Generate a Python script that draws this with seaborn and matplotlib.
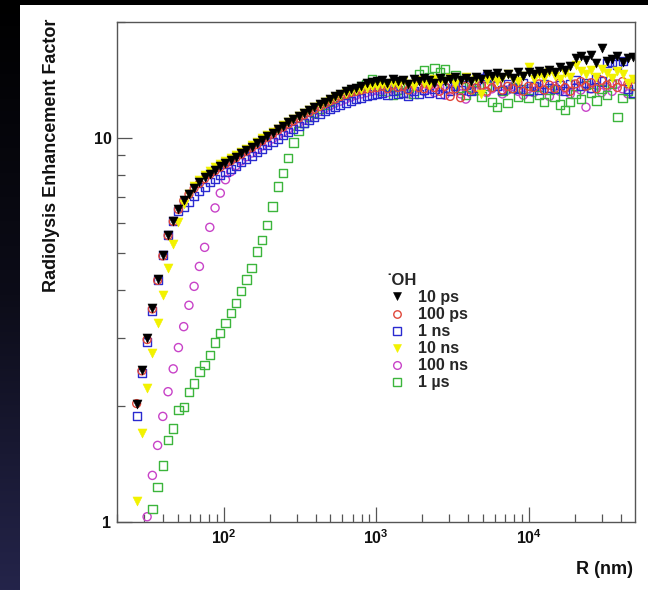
import numpy as np
import pandas as pd
import matplotlib
matplotlib.use("Agg")
import matplotlib.pyplot as plt
import seaborn as sns
from matplotlib.lines import Line2D
from matplotlib.patches import Rectangle
from matplotlib.colors import LinearSegmentedColormap
from matplotlib.ticker import FixedLocator, FixedFormatter, LogLocator, NullFormatter

# ---------------- data ----------------
R_nm = [26.9, 29.1, 31.5, 34.1, 36.9, 39.9, 43.2, 46.7, 50.5, 54.7,
        59.2, 64.0, 69.3, 75.0, 81.1, 87.8, 95.0, 102.7, 111.1, 120.3,
        130.1, 140.8, 152.4, 164.9, 178.4, 193.0, 208.9, 226.0, 244.5, 264.6,
        286.2, 309.7, 335.1, 362.6, 392.3, 424.5, 459.3, 496.9, 537.7, 581.8,
        629.5, 681.1, 737.0, 797.4, 862.8, 933.5, 1010, 1093, 1183, 1280,
        1385, 1498, 1621, 1754, 1898, 2053, 2222, 2404, 2601, 2814,
        3045, 3295, 3565, 3857, 4174, 4516, 4886, 5287, 5720, 6189,
        6697, 7246, 7840, 8483, 9179, 9932, 10746, 11627, 12580, 13612,
        14728, 15936, 17243, 18656, 20187, 21842, 23633, 25571, 27667, 29936,
        32391, 35047, 37921, 41030, 44395, 48035]

ref_10ps = [2.03, 2.49, 3.00, 3.60, 4.28, 4.95, 5.59, 6.08, 6.52, 6.90,
            7.15, 7.40, 7.65, 7.88, 8.06, 8.25, 8.43, 8.60, 8.75, 8.92,
            9.10, 9.28, 9.48, 9.66, 9.88, 10.08, 10.30, 10.50, 10.75, 10.95,
            11.15, 11.35, 11.60, 11.80, 12.00, 12.25, 12.40, 12.60, 12.80, 13.00,
            13.20, 13.35, 13.50, 13.65, 13.85, 13.95, 14.00, 14.10, 13.90, 14.20,
            14.00, 14.10, 13.80, 14.20, 14.00, 14.30, 14.10, 13.90, 14.30, 14.00,
            14.20, 14.40, 14.10, 14.30, 14.00, 14.40, 14.20, 14.60, 14.50, 14.70,
            14.40, 14.60, 14.30, 14.80, 14.50, 14.80, 14.60, 14.90, 14.70, 15.00,
            14.80, 15.30, 15.00, 15.40, 16.10, 16.30, 15.90, 16.40, 15.60, 17.10,
            15.80, 16.00, 16.30, 15.70, 16.10, 16.20]

ref_100ps = [2.03, 2.47, 2.98, 3.58, 4.25, 4.92, 5.56, 6.05, 6.50, 6.85,
             7.12, 7.38, 7.60, 7.82, 8.02, 8.20, 8.38, 8.55, 8.70, 8.87,
             9.05, 9.22, 9.42, 9.60, 9.82, 10.02, 10.22, 10.45, 10.65, 10.85,
             11.05, 11.25, 11.45, 11.65, 11.85, 12.05, 12.25, 12.45, 12.60, 12.80,
             12.95, 13.10, 13.20, 13.30, 13.40, 13.45, 13.50, 13.60, 13.40, 13.70,
             13.50, 13.60, 13.30, 13.80, 13.50, 13.40, 13.70, 13.50, 13.20, 13.60,
             12.80, 13.40, 12.70, 13.60, 13.30, 13.50, 13.70, 13.20, 13.50, 13.80,
             13.30, 13.60, 13.40, 13.90, 13.20, 13.60, 13.50, 13.80, 13.30, 13.70,
             13.40, 13.90, 13.50, 13.20, 13.80, 14.00, 13.60, 13.90, 13.40, 14.10,
             13.70, 13.90, 13.50, 14.00, 13.80, 13.60]

ref_1ns = [1.88, 2.44, 2.94, 3.53, 4.26, 4.95, 5.59, 6.05, 6.45, 6.60,
           6.82, 7.04, 7.25, 7.45, 7.65, 7.82, 7.98, 8.15, 8.30, 8.45,
           8.62, 8.78, 8.96, 9.15, 9.35, 9.55, 9.75, 9.95, 10.15, 10.35,
           10.52, 10.72, 10.92, 11.10, 11.30, 11.50, 11.70, 11.85, 12.00, 12.15,
           12.30, 12.45, 12.60, 12.70, 12.85, 12.95, 13.00, 13.10, 12.90, 13.20,
           13.00, 13.10, 12.80, 13.20, 13.00, 13.30, 13.10, 13.40, 13.00, 13.50,
           13.20, 13.60, 13.30, 13.70, 13.20, 13.50, 14.30, 14.50, 14.40, 13.60,
           13.30, 13.80, 13.50, 13.40, 13.90, 13.20, 13.60, 13.30, 13.80, 13.50,
           13.40, 13.70, 13.20, 13.80, 14.10, 13.60, 13.90, 13.50, 14.20, 14.00,
           15.60, 15.70, 15.50, 15.80, 13.40, 13.10]

ref_10ns = [1.13, 1.70, 2.23, 2.75, 3.29, 3.90, 4.57, 5.28, 6.02, 6.70,
            7.15, 7.50, 7.75, 7.98, 8.18, 8.36, 8.52, 8.68, 8.84, 9.00,
            9.18, 9.36, 9.55, 9.74, 9.95, 10.15, 10.36, 10.56, 10.78, 10.98,
            11.18, 11.38, 11.58, 11.78, 11.98, 12.18, 12.38, 12.56, 12.74, 12.90,
            13.05, 13.20, 13.30, 13.40, 13.50, 13.60, 13.65, 13.80, 13.60, 13.90,
            13.70, 14.00, 13.80, 13.60, 14.10, 13.90, 13.70, 14.20, 13.90, 14.00,
            14.30, 13.80, 14.10, 14.40, 14.00, 14.20, 13.00, 14.10, 14.40, 14.00,
            14.30, 14.60, 14.20, 14.00, 14.50, 15.30, 14.20, 14.60, 14.30, 14.80,
            14.50, 14.20, 14.70, 14.40, 15.50, 14.90, 14.60, 15.00, 14.40, 15.10,
            14.70, 14.30, 14.90, 14.60, 13.90, 14.20]

# starts at R_nm[2]
ref_100ns = [1.03, 1.32, 1.58, 1.88, 2.18, 2.50, 2.84, 3.22,
             3.66, 4.10, 4.62, 5.18, 5.84, 6.56, 7.17, 7.77, 8.15, 8.45,
             8.70, 8.92, 9.12, 9.32, 9.52, 9.72, 9.93, 10.12, 10.32, 10.52,
             10.72, 10.92, 11.10, 11.30, 11.50, 11.70, 11.90, 12.10, 12.30, 12.45,
             12.60, 12.75, 12.90, 13.00, 13.10, 13.20, 13.25, 13.30, 13.10, 13.40,
             13.20, 13.50, 13.00, 13.30, 13.60, 13.20, 13.40, 13.10, 13.50, 12.90,
             13.30, 13.60, 13.00, 12.60, 13.40, 13.20, 13.50, 13.10, 13.40, 13.70,
             13.00, 13.30, 13.60, 13.20, 12.90, 13.40, 13.10, 13.50, 13.30, 12.80,
             13.60, 13.20, 13.40, 13.00, 13.50, 13.30, 12.00, 13.40, 13.70, 13.10,
             13.50, 13.20, 13.80, 13.40, 13.00, 13.60]

# starts at R_nm[3]
ref_1us = [1.08, 1.23, 1.40, 1.63, 1.75, 1.95, 1.99,
           2.18, 2.29, 2.46, 2.56, 2.72, 2.93, 3.10, 3.29, 3.49, 3.71,
           3.98, 4.27, 4.58, 5.05, 5.42, 5.93, 6.62, 7.46, 8.09, 8.85,
           9.72, 10.40, 10.90, 11.30, 11.60, 11.90, 12.20, 12.40, 12.60, 12.90,
           13.00, 13.30, 13.40, 13.60, 13.80, 14.20, 13.90, 13.20, 13.60, 12.90,
           13.30, 13.10, 13.50, 13.00, 14.60, 15.00, 14.40, 15.20, 14.80, 15.10,
           13.90, 14.50, 13.50, 12.90, 13.80, 13.30, 12.80, 13.60, 12.40, 12.00,
           13.20, 12.30, 13.50, 12.80, 13.40, 12.70, 13.60, 12.90, 12.40, 13.30,
           12.80, 12.20, 11.80, 12.40, 13.00, 12.60, 13.70, 13.10, 12.50, 13.40,
           12.90, 13.80, 11.30, 12.70, 13.20, 13.00]

labels = ["10 ps", "100 ps", "1 ns", "10 ns", "100 ns", "1 \u00b5s"]
x_ticks = [100, 1000, 10000]
x_ticklabels = [r"$10^{2}$", r"$10^{3}$", r"$10^{4}$"]
y_ticks = [1, 10]
y_ticklabels = ["1", "10"]

# ---------------- style ----------------
sns.set_style("ticks")
plt.rcParams["font.family"] = ["Liberation Sans", "DejaVu Sans"]
plt.rcParams["font.weight"] = "bold"
plt.rcParams["mathtext.fontset"] = "custom"
plt.rcParams["mathtext.rm"] = "Liberation Sans:bold"
plt.rcParams["mathtext.it"] = "Liberation Sans:bold"
plt.rcParams["mathtext.bf"] = "Liberation Sans:bold"
plt.rcParams["mathtext.default"] = "rm"

W, H = 648, 590
fig = plt.figure(figsize=(W / 100, H / 100), dpi=100, facecolor="white")

# dark slide background strips
fig.patches.append(Rectangle((0, 1 - 5 / H), 1, 5 / H, transform=fig.transFigure,
                             facecolor="black", edgecolor="none", zorder=-5))
bg = fig.add_axes([0, 0, 20 / W, 1])
cmap = LinearSegmentedColormap.from_list("slide", ["#000000", "#0c0c18", "#24244a"])
bg.imshow(np.linspace(0, 1, 256).reshape(-1, 1), aspect="auto", cmap=cmap,
          extent=[0, 1, 0, 1], origin="upper")
bg.axis("off")

left, right, top, bottom = 117, 635, 22, 521.7
ax = fig.add_axes([left / W, 1 - bottom / H, (right - left) / W, (bottom - top) / H])
ax.set_facecolor("white")

# (values, start index, marker, color, filled, size)
series = [
    (ref_100ns, 2, "o", "#c843c8", False, 34),
    (ref_1us, 3, "s", "#3cb53c", False, 36),
    (ref_1ns, 0, "s", "#2a2ad0", False, 34),
    (ref_100ps, 0, "o", "#e0473a", False, 32),
    (ref_10ns, 0, "v", "#f2f200", True, 42),
    (ref_10ps, 0, "v", "#000000", True, 42),
]
for vals, start, mk, col, filled, size in series:
    df = pd.DataFrame({"R": R_nm[start:start + len(vals)], "F": vals})
    if filled:
        sns.scatterplot(data=df, x="R", y="F", ax=ax, marker=mk, s=size, color=col,
                        edgecolor=col, linewidth=0.4, legend=False)
    else:
        sns.scatterplot(data=df, x="R", y="F", ax=ax, marker=mk, s=size, color=col,
                        facecolors="none", edgecolor=col, linewidth=1.0, legend=False)

ax.set_xscale("log")
ax.set_yscale("log")
ax.set_xlim(20, 49500)
ax.set_ylim(1, 20)
ax.set_xlabel("")
ax.set_ylabel("")

ax.xaxis.set_major_locator(FixedLocator(x_ticks))
ax.xaxis.set_major_formatter(FixedFormatter(x_ticklabels))
ax.xaxis.set_minor_locator(LogLocator(base=10, subs=np.arange(2, 10)))
ax.xaxis.set_minor_formatter(NullFormatter())
ax.yaxis.set_major_locator(FixedLocator(y_ticks))
ax.yaxis.set_major_formatter(FixedFormatter(y_ticklabels))
ax.yaxis.set_minor_locator(LogLocator(base=10, subs=np.arange(2, 10)))
ax.yaxis.set_minor_formatter(NullFormatter())

ax.tick_params(which="both", direction="in", top=False, right=False,
               color="#555555", width=0.9, labelsize=11.5, labelcolor="#111111")
ax.tick_params(which="major", length=11)
ax.tick_params(which="minor", length=5.5)
ax.tick_params(axis="x", which="major", pad=5)
ax.tick_params(axis="y", which="major", pad=4)
for sp in ax.spines.values():
    sp.set_visible(True)
    sp.set_color("#555555")
    sp.set_linewidth(1.0)

fig.text(52 / W, 1 - 19 / H, "Radiolysis Enhancement Factor", rotation=90,
         ha="center", va="top", fontsize=13, fontweight="bold", color="#111111")
fig.text(633 / W, 1 - 569 / H, "R (nm)", ha="right", va="center",
         fontsize=13, fontweight="bold", color="#111111")

# legend
handles = []
for vals, start, mk, col, filled, size in [series[5], series[3], series[2],
                                           series[4], series[0], series[1]]:
    handles.append(Line2D([], [], ls="none", marker=mk, ms=np.sqrt(size) * 0.95,
                          mfc=(col if filled else "none"), mec=col,
                          mew=(0.4 if filled else 1.0)))
leg = ax.legend(handles, labels, title="\u02d9OH", loc="upper left",
                bbox_to_anchor=(386 / W, 1 - 273 / H), bbox_transform=fig.transFigure,
                frameon=False, prop={"weight": "bold", "size": 11.5},
                title_fontproperties={"weight": "bold", "size": 12},
                borderpad=0, handlelength=1.375, handletextpad=0.625,
                labelspacing=0.13, alignment="left", borderaxespad=0)

fig.savefig("out.png", dpi=100, facecolor="white")
